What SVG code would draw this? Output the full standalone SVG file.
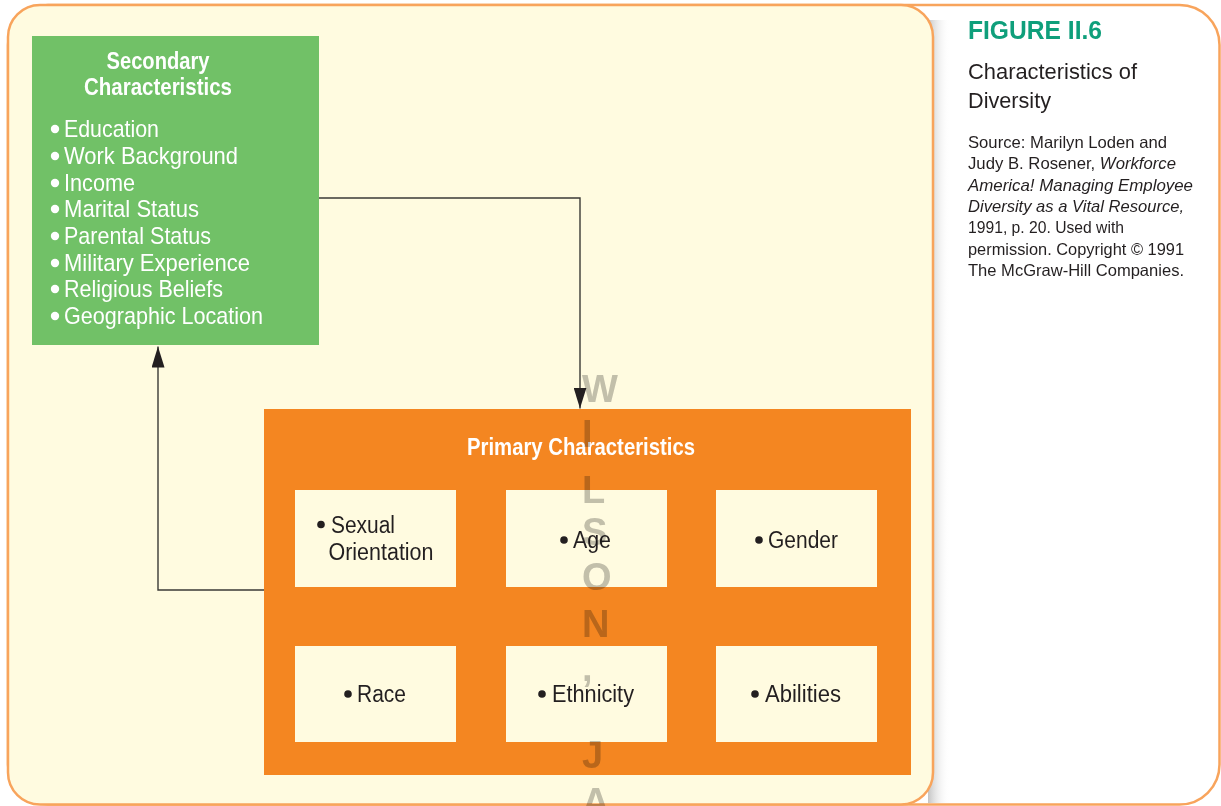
<svg xmlns="http://www.w3.org/2000/svg" width="1221" height="806" viewBox="0 0 1221 806">
  <defs>
    <style>
      .cond { font-family: "Liberation Sans Narrow", "Liberation Sans", Arial, sans-serif; }
      .head { font-weight: bold; font-size: 24px; fill: #ffffff; }
      .item-w { font-size: 24px; fill: #ffffff; }
      .item { font-size: 23px; fill: #231f20; }
      .cell { fill: #fffbe0; }
      .bullet-w { fill: #ffffff; }
      .bullet { fill: #231f20; }
      .wire { fill: none; stroke: #3b3a36; stroke-width: 1.4; }
      .side { font-family: "Liberation Sans Narrow", "Liberation Sans", Arial, sans-serif; fill: #231f20; }
      .mark { font-family: "Liberation Sans", Arial, sans-serif; font-weight: bold; font-size: 38px; fill: #c2c2c2; mix-blend-mode: multiply; }
    </style>
    <marker id="arrowhead" viewBox="0 0 21 13" refX="21" refY="6.5" markerWidth="21" markerHeight="13" markerUnits="userSpaceOnUse" orient="auto">
      <path d="M0,0 L21,6.5 L0,13 Z" fill="#231f20"/>
    </marker>
    <linearGradient id="shade" x1="0" y1="0" x2="1" y2="0">
      <stop offset="0" stop-color="#c4c4c4"/>
      <stop offset="1" stop-color="#ffffff" stop-opacity="0"/>
    </linearGradient>
  </defs>

  <!-- page background -->
  <rect x="0" y="0" width="1221" height="806" fill="#ffffff"/>

  <!-- outer white card with caption column -->
  <rect id="card" x="8" y="5" width="1211.5" height="799.5" rx="40" fill="#ffffff" stroke="#f8a45c" stroke-width="2.5"/>

  <!-- drop shadow to the right of the cream panel -->
  <rect x="928" y="20" width="22" height="783" fill="url(#shade)"/>

  <!-- cream diagram panel -->
  <rect id="panel" x="8" y="5" width="925" height="799.5" rx="32" fill="#fffbe0" stroke="#f8a45c" stroke-width="2.5"/>

  <!-- connectors -->
  <g id="connectors">
    <path class="wire" d="M319,198 H580 V408.5" marker-end="url(#arrowhead)"/>
    <path class="wire" d="M264,590 H158 V346.5" marker-end="url(#arrowhead)"/>
  </g>

  <!-- secondary characteristics -->
  <g id="secondary">
    <rect x="32" y="36" width="287" height="309" fill="#71c167"/>
    <text class="cond head" x="158" y="69" text-anchor="middle" textLength="103" lengthAdjust="spacingAndGlyphs">Secondary</text>
    <text class="cond head" x="158" y="95" text-anchor="middle" textLength="148" lengthAdjust="spacingAndGlyphs">Characteristics</text>
    <g class="bullet-w">
      <circle cx="55" cy="129" r="4.2"/>
      <circle cx="55" cy="156" r="4.2"/>
      <circle cx="55" cy="183" r="4.2"/>
      <circle cx="55" cy="209" r="4.2"/>
      <circle cx="55" cy="236" r="4.2"/>
      <circle cx="55" cy="263" r="4.2"/>
      <circle cx="55" cy="289" r="4.2"/>
      <circle cx="55" cy="316" r="4.2"/>
    </g>
    <text class="cond item-w" x="64" y="137" textLength="95" lengthAdjust="spacingAndGlyphs">Education</text>
    <text class="cond item-w" x="64" y="164" textLength="174" lengthAdjust="spacingAndGlyphs">Work Background</text>
    <text class="cond item-w" x="64" y="191" textLength="71" lengthAdjust="spacingAndGlyphs">Income</text>
    <text class="cond item-w" x="64" y="217" textLength="135" lengthAdjust="spacingAndGlyphs">Marital Status</text>
    <text class="cond item-w" x="64" y="244" textLength="147" lengthAdjust="spacingAndGlyphs">Parental Status</text>
    <text class="cond item-w" x="64" y="271" textLength="186" lengthAdjust="spacingAndGlyphs">Military Experience</text>
    <text class="cond item-w" x="64" y="297" textLength="159" lengthAdjust="spacingAndGlyphs">Religious Beliefs</text>
    <text class="cond item-w" x="64" y="324" textLength="199" lengthAdjust="spacingAndGlyphs">Geographic Location</text>
  </g>

  <!-- primary characteristics -->
  <g id="primary">
    <rect x="264" y="409" width="647" height="366" fill="#f48621"/>
    <text class="cond head" x="581" y="455" text-anchor="middle" textLength="228" lengthAdjust="spacingAndGlyphs">Primary Characteristics</text>
  </g>

  <g id="sexual-orientation">
    <rect class="cell" x="295" y="490" width="161" height="97"/>
    <circle class="bullet" cx="321" cy="524.5" r="3.8"/>
    <text class="cond item" x="331" y="533" textLength="64" lengthAdjust="spacingAndGlyphs">Sexual</text>
    <text class="cond item" x="328.5" y="560" textLength="105" lengthAdjust="spacingAndGlyphs">Orientation</text>
  </g>
  <g id="age">
    <rect class="cell" x="506" y="490" width="161" height="97"/>
    <circle class="bullet" cx="564" cy="540" r="3.8"/>
    <text class="cond item" x="573" y="548" textLength="38" lengthAdjust="spacingAndGlyphs">Age</text>
  </g>
  <g id="gender">
    <rect class="cell" x="716" y="490" width="161" height="97"/>
    <circle class="bullet" cx="759" cy="540" r="3.8"/>
    <text class="cond item" x="768" y="548" textLength="70" lengthAdjust="spacingAndGlyphs">Gender</text>
  </g>
  <g id="race">
    <rect class="cell" x="295" y="646" width="161" height="96"/>
    <circle class="bullet" cx="348" cy="694" r="3.8"/>
    <text class="cond item" x="357" y="702" textLength="49" lengthAdjust="spacingAndGlyphs">Race</text>
  </g>
  <g id="ethnicity">
    <rect class="cell" x="506" y="646" width="161" height="96"/>
    <circle class="bullet" cx="542" cy="694" r="3.8"/>
    <text class="cond item" x="552" y="702" textLength="82" lengthAdjust="spacingAndGlyphs">Ethnicity</text>
  </g>
  <g id="abilities">
    <rect class="cell" x="716" y="646" width="161" height="96"/>
    <circle class="bullet" cx="755" cy="694" r="3.8"/>
    <text class="cond item" x="765" y="702" textLength="76" lengthAdjust="spacingAndGlyphs">Abilities</text>
  </g>

  <!-- vertical stamp lettering -->
  <g id="stamp" class="mark">
    <text x="582" y="402">W</text>
    <text x="582" y="447">I</text>
    <text x="582" y="503">L</text>
    <text x="582" y="545">S</text>
    <text x="582" y="590">O</text>
    <text x="582" y="637">N</text>
    <text x="582" y="681">,</text>
    <text x="582" y="768">J</text>
    <text x="582" y="815">A</text>
  </g>

  <!-- caption column -->
  <g id="caption">
    <text x="968" y="39" font-family="'Liberation Sans Narrow', 'Liberation Sans', Arial, sans-serif" font-weight="bold" font-size="26.5" fill="#0f9f7b" textLength="134" lengthAdjust="spacingAndGlyphs">FIGURE II.6</text>
    <text class="side" x="968" y="79" font-size="22.5" textLength="169" lengthAdjust="spacingAndGlyphs">Characteristics of</text>
    <text class="side" x="968" y="108" font-size="22.5" textLength="83" lengthAdjust="spacingAndGlyphs">Diversity</text>
    <g class="side" font-size="16.5">
      <text x="968" y="148" textLength="199" lengthAdjust="spacingAndGlyphs">Source: Marilyn Loden and</text>
      <text x="968" y="169" textLength="208" lengthAdjust="spacingAndGlyphs">Judy B. Rosener, <tspan font-style="italic">Workforce</tspan></text>
      <text x="968" y="191" font-style="italic" textLength="225" lengthAdjust="spacingAndGlyphs">America! Managing Employee</text>
      <text x="968" y="212" font-style="italic" textLength="216" lengthAdjust="spacingAndGlyphs">Diversity as a Vital Resource,</text>
      <text x="968" y="233" textLength="156" lengthAdjust="spacingAndGlyphs">1991, p. 20. Used with</text>
      <text x="968" y="255" textLength="216" lengthAdjust="spacingAndGlyphs">permission. Copyright © 1991</text>
      <text x="968" y="276" textLength="216" lengthAdjust="spacingAndGlyphs">The McGraw-Hill Companies.</text>
    </g>
  </g>
</svg>
